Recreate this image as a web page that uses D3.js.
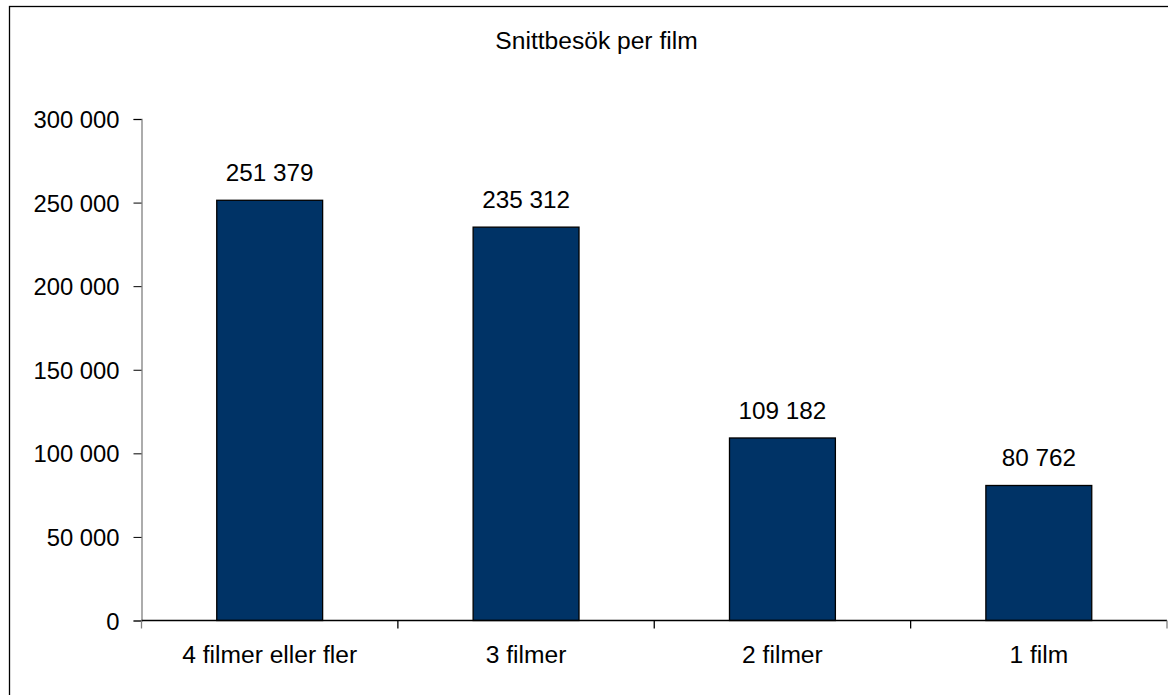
<!DOCTYPE html>
<html>
<head>
<meta charset="utf-8">
<script src="https://cdn.jsdelivr.net/npm/d3@7"></script>
<style>
  html, body { margin: 0; padding: 0; background: #fff; }
  svg { display: block; }
  text { font-family: "Liberation Sans", Arial, sans-serif; fill: #000; }
</style>
</head>
<body>
<svg id="chart" width="1168" height="695"></svg>
<script>
const title = "Snittbesök per film";
const categories = ["4 filmer eller fler", "3 filmer", "2 filmer", "1 film"];
const values = [251379, 235312, 109182, 80762];
const yTicks = [0, 50000, 100000, 150000, 200000, 250000, 300000];

(function () {
const svg = d3.select("#chart");
const fmt = v => d3.format(",")(v).replace(/,/g, " ");

// outer border
svg.append("rect")
  .attr("x", 9.5).attr("y", 6.5)
  .attr("width", 1300).attr("height", 900)
  .attr("fill", "#fff").attr("stroke", "#000").attr("stroke-width", 1.3);

const plotLeft = 141.5, plotRight = 1167, plotTop = 119, plotBottom = 620.5;

const y = d3.scaleLinear().domain([0, 300000]).range([plotBottom, plotTop]);
const x = d3.scaleBand().domain(categories).range([plotLeft, plotRight])
  .paddingInner(0.587).paddingOuter(0.2935);

// title
svg.append("text")
  .attr("x", 596.5).attr("y", 49)
  .attr("text-anchor", "middle")
  .style("font-size", "24.6px")
  .text(title);

// y axis
const yAxis = svg.append("g")
  .attr("transform", `translate(${plotLeft},0)`)
  .call(d3.axisLeft(y).tickValues(yTicks).tickFormat(fmt).tickSize(8).tickPadding(14));
yAxis.select(".domain").attr("stroke", "#808080").attr("stroke-width", 1.3);
yAxis.selectAll(".tick line").attr("stroke", "#000");
yAxis.selectAll(".tick text")
  .style("font-size", "23.8px")
  .style("font-family", "'Liberation Sans', Arial, sans-serif")
  .attr("fill", "#000")
  .attr("dy", "0.36em");

// bars
svg.append("g").selectAll("rect")
  .data(values)
  .join("rect")
  .attr("x", (d, i) => x(categories[i]))
  .attr("y", d => y(d))
  .attr("width", x.bandwidth())
  .attr("height", d => y(0) - y(d))
  .attr("fill", "#003366")
  .attr("stroke", "#000")
  .attr("stroke-width", 1.3);

// value labels
svg.append("g").selectAll("text")
  .data(values)
  .join("text")
  .attr("x", (d, i) => x(categories[i]) + x.bandwidth() / 2)
  .attr("y", d => y(d) - 19)
  .attr("text-anchor", "middle")
  .style("font-size", "24.3px")
  .text(d => fmt(d));

// x axis
const xg = svg.append("g");
xg.append("line")
  .attr("x1", plotLeft).attr("x2", plotRight)
  .attr("y1", y(0)).attr("y2", y(0))
  .attr("stroke", "#000").attr("stroke-width", 1.3);
const edges = d3.range(categories.length + 1).map(i => plotLeft + i * x.step());
xg.selectAll(".xt")
  .data(edges)
  .join("line")
  .attr("class", "xt")
  .attr("x1", d => d).attr("x2", d => d)
  .attr("y1", y(0)).attr("y2", y(0) + 8)
  .attr("stroke", (d, i) => i === 0 || i === edges.length - 1 ? "#808080" : "#000")
  .attr("stroke-width", 1.3);
xg.selectAll(".xl")
  .data(categories)
  .join("text")
  .attr("class", "xl")
  .attr("x", d => x(d) + x.bandwidth() / 2)
  .attr("y", 663)
  .attr("text-anchor", "middle")
  .style("font-size", "24.6px")
  .text(d => d);
})();
</script>
</body>
</html>
